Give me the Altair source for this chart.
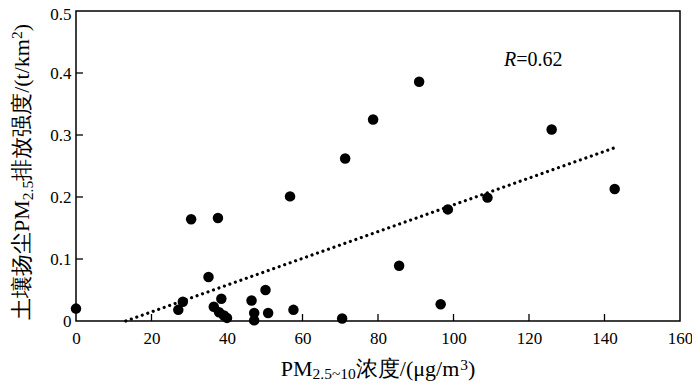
import altair as alt
import pandas as pd

# ---- data ----
pm_conc = [0, 27.1, 28.3, 30.5, 37.6, 35.1, 38.5, 36.5, 37.9, 39.2, 40.0, 46.5, 50.2, 47.2,
           47.2, 50.9, 57.6, 56.7, 71.3, 78.7, 70.5, 90.9, 126.0, 142.7, 109.0, 98.5, 85.6, 96.6]
emission = [0.020, 0.018, 0.031, 0.164, 0.166, 0.071, 0.036, 0.023, 0.014, 0.009, 0.005, 0.033,
            0.050, 0.013, 0.001, 0.013, 0.018, 0.201, 0.262, 0.325, 0.004, 0.386, 0.309, 0.213,
            0.199, 0.180, 0.089, 0.027]
trend_x = [13.2, 142.5]
trend_y = [0.0, 0.279]
x_ticks = [0, 20, 40, 60, 80, 100, 120, 140, 160]
y_ticks = [0, 0.1, 0.2, 0.3, 0.4, 0.5]
x_inner_ticks = [20, 40, 60, 80, 100, 120, 140]
y_inner_ticks = [0.1, 0.2, 0.3, 0.4]

W, H = 604, 310
SERIF = "Liberation Serif"
BIG, SMALL = 22, 15.5

pts = pd.DataFrame({"x": pm_conc, "y": emission})
trend = pd.DataFrame({"x": trend_x, "y": trend_y})
xt = pd.DataFrame({"v": x_inner_ticks})
yt = pd.DataFrame({"v": y_inner_ticks})
one = pd.DataFrame({"a": [0]})

xscale = alt.Scale(domain=[0, 160], nice=False, zero=False)
yscale = alt.Scale(domain=[0, 0.5], nice=False, zero=False)

xaxis = alt.Axis(values=x_ticks, title=None, grid=False, domain=False, ticks=False,
                 labelFont=SERIF, labelFontSize=17, labelColor="black", labelPadding=9,
                 labelFlush=False)
yaxis = alt.Axis(values=y_ticks, title=None, grid=False, domain=False, ticks=False,
                 labelFont=SERIF, labelFontSize=17, labelColor="black", labelPadding=5,
                 labelOffset={"condition": {"test": "datum.value >= 0.5", "value": 3},
                              "value": 0},
                 labelExpr="datum.value == 0 ? '0' : format(datum.value, '.1f')")

points = alt.Chart(pts).mark_circle(size=110, color="black", opacity=1, clip=False).encode(
    x=alt.X("x:Q", scale=xscale, axis=xaxis),
    y=alt.Y("y:Q", scale=yscale, axis=yaxis),
)

line = alt.Chart(trend).mark_line(color="black", strokeWidth=3.2, strokeCap="round",
                                  strokeDash=[0.01, 5.8]).encode(
    x=alt.X("x:Q", scale=xscale), y=alt.Y("y:Q", scale=yscale))

xtick_rules = alt.Chart(xt).mark_rule(color="black", strokeWidth=1.3).encode(
    x=alt.X("v:Q", scale=xscale), y=alt.value(H), y2=alt.value(H - 7))
ytick_rules = alt.Chart(yt).mark_rule(color="black", strokeWidth=1.3).encode(
    y=alt.Y("v:Q", scale=yscale), x=alt.value(0), x2=alt.value(7))

# ---- composed titles with sub/superscripts ----
cw = {'P': 0.556, 'M': 0.889, '2': 0.5, '.': 0.25, '5': 0.5, '~': 0.541, '1': 0.5, '0': 0.5,
      '/': 0.278, '(': 0.333, ')': 0.333, 'μ': 0.576, 'g': 0.5, 'm': 0.778, 't': 0.278,
      'k': 0.5, '3': 0.5, '=': 0.564, '6': 0.5, 'R': 0.611}


def tw(s, size):
    return sum(cw.get(c, 1.0) for c in s) * size


x_title_parts = [("PM", BIG, 0), ("2.5~10", SMALL, 3), ("浓度/(μg/m", BIG, 0),
                 ("3", SMALL, -6), (")", BIG, 0)]
y_title_parts = [("土壤扬尘PM", BIG, 0), ("2.5", SMALL, 4), ("排放强度/(t/km", BIG, 0),
                 ("2", SMALL, -7), (")", BIG, 0)]

layers = [points, line, xtick_rules, ytick_rules]

total = sum(tw(t, s) for t, s, _ in x_title_parts)
cx = W / 2 - total / 2
base = 365
for t, s, sh in x_title_parts:
    layers.append(alt.Chart(one).mark_text(text=t, font=SERIF, fontSize=s, align="left",
                                           baseline="alphabetic", color="black").encode(
        x=alt.value(cx), y=alt.value(base + sh)))
    cx += tw(t, s)

cy = 309
basex = -47
for t, s, sh in y_title_parts:
    layers.append(alt.Chart(one).mark_text(text=t, font=SERIF, fontSize=s, align="left",
                                           baseline="alphabetic", angle=270,
                                           color="black").encode(
        x=alt.value(basex + sh), y=alt.value(cy)))
    cy -= tw(t, s)

# R = 0.62 annotation
rx, ry = 428, 55
layers.append(alt.Chart(one).mark_text(text="R", font=SERIF, fontSize=20, fontStyle="italic",
                                       align="left", baseline="alphabetic", color="black").encode(
    x=alt.value(rx), y=alt.value(ry)))
layers.append(alt.Chart(one).mark_text(text="=0.62", font=SERIF, fontSize=20,
                                       align="left", baseline="alphabetic", color="black").encode(
    x=alt.value(rx + tw("R", 20)), y=alt.value(ry)))

chart = alt.layer(*layers).properties(
    width=W, height=H,
    autosize=alt.AutoSizeParams(type="none"),
    padding={"left": 68, "top": 3, "right": 12, "bottom": 62},
    background="white",
).configure_view(stroke="black", strokeWidth=1.5)

chart.save("out.html", embed_options={"renderer": "svg", "actions": False})
